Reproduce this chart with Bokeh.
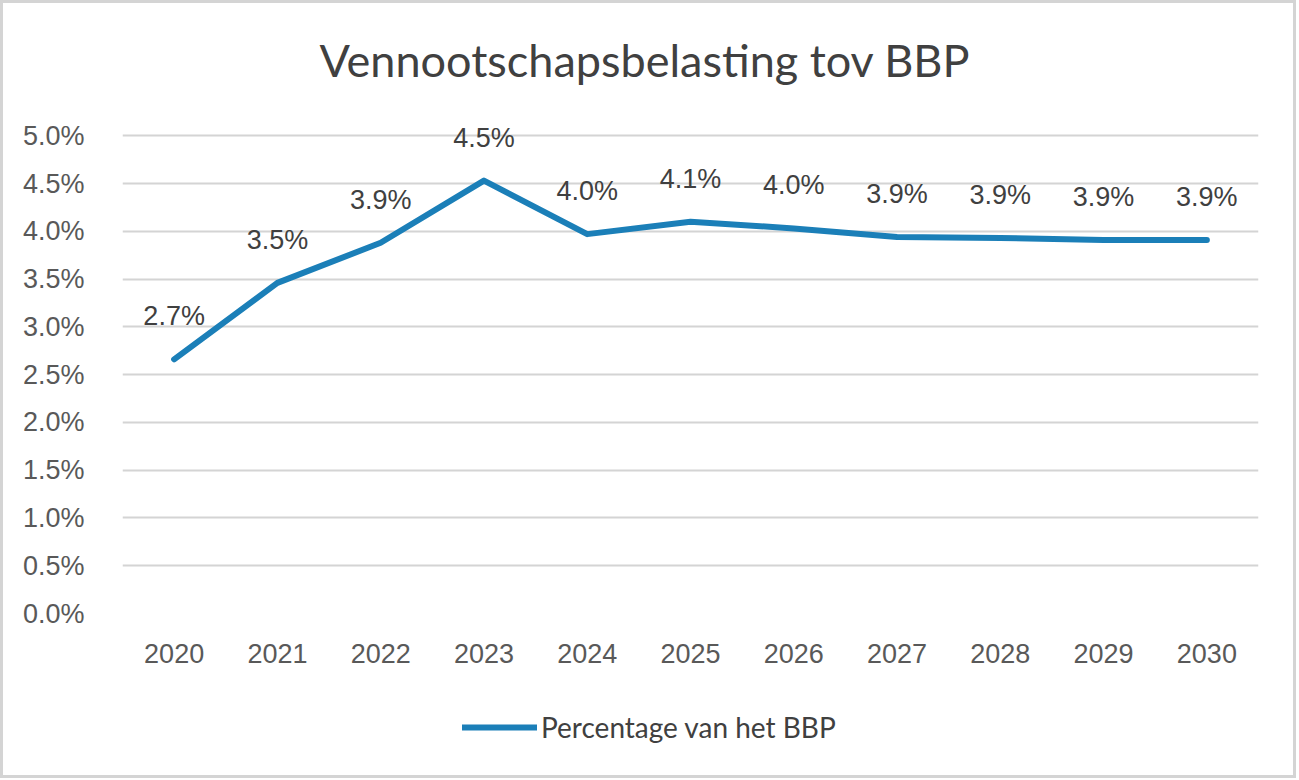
from bokeh.plotting import figure
from bokeh.layouts import column
from bokeh.models import (Range1d, FactorRange, NumeralTickFormatter, Title, Legend, LegendItem,
                          LabelSet, ColumnDataSource, SingleIntervalTicker)
from bokeh.core.properties import value
from bokeh.embed import file_html
from bokeh.resources import INLINE

years = ["2020", "2021", "2022", "2023", "2024", "2025", "2026", "2027", "2028", "2029", "2030"]
pct = [2.66, 3.46, 3.88, 4.53, 3.97, 4.10, 4.03, 3.94, 3.93, 3.91, 3.91]
series_name = "Percentage van het BBP"
title_text = "Vennootschapsbelasting tov BBP"
line_color = "#1B7FB8"

vals = [v / 100 for v in pct]
labels = [f"{v:.1f}%" for v in pct]
src = ColumnDataSource(dict(x=years, y=vals, lab=labels))

p = figure(frame_width=1136, frame_height=516, x_range=FactorRange(*years), y_range=Range1d(0, 0.054),
           output_backend="svg", toolbar_location=None,
           min_border_left=119, min_border_right=35, min_border_top=94, min_border_bottom=70)
p.outline_line_color = None
p.background_fill_color = "white"
p.border_fill_color = "white"

t = Title(text=title_text, text_font="Lato", text_font_size="45px", text_font_style="normal",
          text_color="#404040", align="left", offset=197, standoff=21)
p.add_layout(t, "above")

line = p.line("x", "y", source=src, line_color=line_color, line_width=6, line_cap="round", line_join="round")

ls = LabelSet(x="x", y="y", text="lab", source=src, y_offset=43, text_align="center", text_baseline="middle",
              text_font=value("Liberation Sans"), text_font_size="27px", text_color="#404040")
p.add_layout(ls)

p.yaxis.ticker = SingleIntervalTicker(interval=0.005)
p.yaxis.formatter = NumeralTickFormatter(format="0.0%")
for ax in (p.xaxis[0], p.yaxis[0]):
    ax.axis_line_color = None
    ax.major_tick_line_color = None
    ax.minor_tick_line_color = None
    ax.major_label_text_font = "Liberation Sans"
    ax.major_label_text_font_size = "27px"
    ax.major_label_text_color = "#595959"
p.yaxis.major_label_standoff = 32
p.xaxis.major_label_standoff = 24
p.xgrid.grid_line_color = None
p.ygrid.grid_line_color = "#d4d4d4"
p.ygrid.grid_line_width = 2

# legend strip: the same series, drawn outside this strip's visible range, feeds the legend glyph
p2 = figure(width=1290, height=92, x_range=FactorRange(*years), y_range=Range1d(10, 11),
            x_axis_type=None, y_axis_type=None, output_backend="svg", toolbar_location=None,
            min_border=0)
p2.outline_line_color = None
p2.xgrid.grid_line_color = None
p2.ygrid.grid_line_color = None
p2.background_fill_color = "white"
p2.border_fill_color = "white"
leg_line = p2.line("x", "y", source=src, line_color=line_color, line_width=6, line_cap="round")
legend = Legend(items=[LegendItem(label=series_name, renderers=[leg_line])], location=(340, 31),
                orientation="horizontal", label_text_font="Lato", label_text_font_size="28px",
                label_text_color="#404040", glyph_width=75, label_standoff=4,
                border_line_color=None, background_fill_alpha=0, padding=0, margin=0)
p2.add_layout(legend, "center")

layout = column(p, p2, spacing=0, styles={"border": "3px solid #d4d4d4", "background-color": "white"})

open("out.html", "w").write(file_html(layout, INLINE))
